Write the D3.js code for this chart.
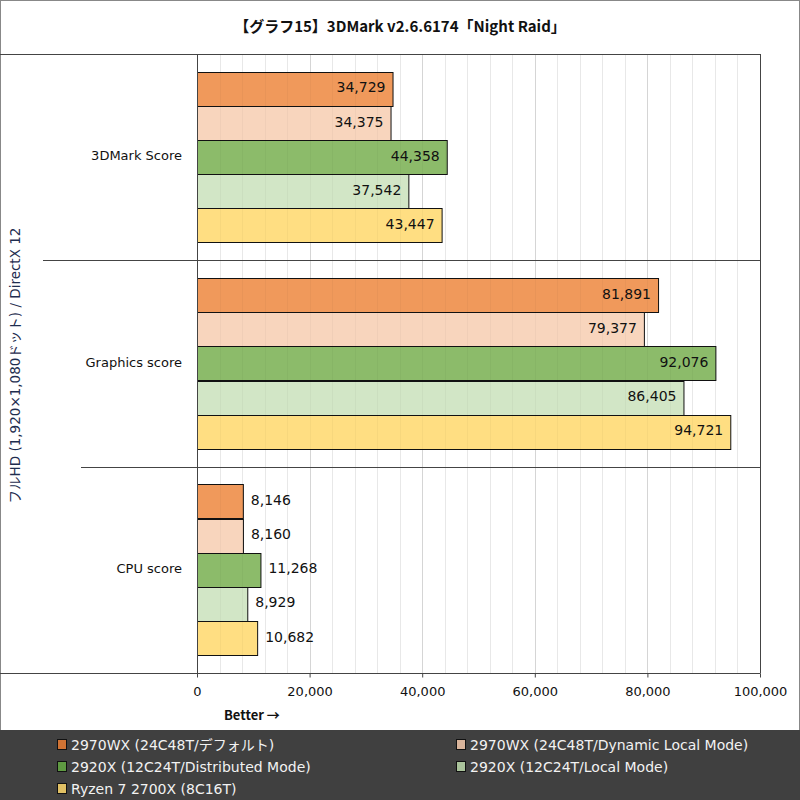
<!DOCTYPE html>
<html>
<head>
<meta charset="utf-8">
<script src="https://cdn.jsdelivr.net/npm/d3@7"></script>
<style>
  body { margin: 0; background: #fff; }
  svg text { font-family: "DejaVu Sans", "Noto Sans CJK JP", sans-serif; }
</style>
</head>
<body>
<div id="chart"></div>
<script>
// chart data
var title = "【グラフ15】3DMark v2.6.6174「Night Raid」";
var groupLabel = "フルHD (1,920×1,080ドット) / DirectX 12";
var categories = ["3DMark Score", "Graphics score", "CPU score"];
var seriesNames = [
    "2970WX (24C48T/デフォルト)",
    "2970WX (24C48T/Dynamic Local Mode)",
    "2920X (12C24T/Distributed Mode)",
    "2920X (12C24T/Local Mode)",
    "Ryzen 7 2700X (8C16T)"
];
var wx2970Default = [34729, 81891, 8146];
var wx2970Local = [34375, 79377, 8160];
var x2920Dist = [44358, 92076, 11268];
var x2920Local = [37542, 86405, 8929];
var r2700x = [43447, 94721, 10682];
var seriesValues = [wx2970Default, wx2970Local, x2920Dist, x2920Local, r2700x];
var xTicks = [0, 20000, 40000, 60000, 80000, 100000];

var barColors = ["#f0995b", "#f8d5bd", "#8cbb6a", "#d2e6c6", "#ffde82"];
var swatchColors = ["#d07334", "#d9b49b", "#5f9a42", "#aac39b", "#e0c064"];

var width = 800, height = 800;
var plotLeft = 197, plotRight = 760, plotTop = 54, plotBottom = 673;

var svg = d3.select("#chart").append("svg")
    .attr("width", width)
    .attr("height", height);

// outer frame
svg.append("rect")
    .attr("x", 0.5).attr("y", 0.5)
    .attr("width", width - 1).attr("height", height - 1)
    .attr("fill", "#fff").attr("stroke", "#888");

// title
svg.append("text")
    .attr("x", 400).attr("y", 32)
    .attr("text-anchor", "middle")
    .attr("font-size", 15)
    .attr("font-weight", "bold")
    .style("font-family", "'Noto Sans CJK JP', sans-serif")
    .attr("fill", "#111")
    .text(title);

var xScale = d3.scaleLinear()
    .domain([0, 100000])
    .range([plotLeft, plotRight]);

var yGroup = d3.scaleBand()
    .domain(categories)
    .range([plotTop, plotBottom]);

var yInner = d3.scaleBand()
    .domain(d3.range(seriesNames.length))
    .range([0, yGroup.bandwidth()])
    .paddingOuter(0.52);

// gridlines: minor every 4000, major every 20000
var minor = d3.range(0, 100001, 4000).filter(function(v){ return v % 20000 !== 0; });
svg.append("g").selectAll("line").data(minor).enter()
    .append("line")
    .attr("x1", function(d){ return Math.round(xScale(d)) + 0.5; })
    .attr("x2", function(d){ return Math.round(xScale(d)) + 0.5; })
    .attr("y1", plotTop).attr("y2", plotBottom)
    .attr("stroke", "#f0f0f0");
svg.append("g").selectAll("line").data(xTicks.slice(1, -1)).enter()
    .append("line")
    .attr("x1", function(d){ return Math.round(xScale(d)) + 0.5; })
    .attr("x2", function(d){ return Math.round(xScale(d)) + 0.5; })
    .attr("y1", plotTop).attr("y2", plotBottom)
    .attr("stroke", "#dcdcdc");

// bars
var rows = [];
categories.forEach(function(c, ci){
    seriesValues.forEach(function(vals, si){
        rows.push({cat: c, s: si, v: vals[ci]});
    });
});

var bars = svg.append("g");
bars.selectAll("rect").data(rows).enter()
    .append("rect")
    .attr("x", xScale(0) + 0.5)
    .attr("y", function(d){ return Math.round(yGroup(d.cat) + yInner(d.s)) + 0.5; })
    .attr("width", function(d){ return xScale(d.v) - xScale(0); })
    .attr("height", Math.round(yInner.bandwidth()))
    .attr("fill", function(d){ return barColors[d.s]; })
    .attr("stroke", "#111");

// faint grid showing through bars
svg.append("g").selectAll("line").data(minor.concat(xTicks.slice(1, -1))).enter()
    .append("line")
    .attr("x1", function(d){ return Math.round(xScale(d)) + 0.5; })
    .attr("x2", function(d){ return Math.round(xScale(d)) + 0.5; })
    .attr("y1", plotTop).attr("y2", plotBottom)
    .attr("stroke", "rgba(0,0,0,0.03)");

// value labels: inside bar when it fits, outside otherwise
bars.selectAll("text").data(rows).enter()
    .append("text")
    .attr("x", function(d){
        var w = xScale(d.v) - xScale(0);
        return w > 80 ? xScale(d.v) - 7 : xScale(d.v) + 8;
    })
    .attr("y", function(d){ return yGroup(d.cat) + yInner(d.s) + yInner.bandwidth() / 2 + 3.5; })
    .attr("text-anchor", function(d){ return (xScale(d.v) - xScale(0)) > 80 ? "end" : "start"; })
    .attr("font-size", 14)
    .attr("fill", "#111")
    .text(function(d){ return d3.format(",")(d.v); });

// plot frame: top, right, y axis line
svg.append("line").attr("x1", 0).attr("x2", plotRight + 0.5)
    .attr("y1", plotTop + 0.5).attr("y2", plotTop + 0.5).attr("stroke", "#444");
svg.append("line").attr("x1", plotRight + 0.5).attr("x2", plotRight + 0.5)
    .attr("y1", plotTop).attr("y2", plotBottom).attr("stroke", "#444");
svg.append("line").attr("x1", plotLeft + 0.5).attr("x2", plotLeft + 0.5)
    .attr("y1", plotTop).attr("y2", plotBottom).attr("stroke", "#444");

// category separators
svg.append("line").attr("x1", 43).attr("x2", plotRight)
    .attr("y1", Math.round(yGroup(categories[1])) + 0.5).attr("y2", Math.round(yGroup(categories[1])) + 0.5)
    .attr("stroke", "#444");
svg.append("line").attr("x1", 81).attr("x2", plotRight)
    .attr("y1", Math.round(yGroup(categories[2])) + 0.5).attr("y2", Math.round(yGroup(categories[2])) + 0.5)
    .attr("stroke", "#444");

// category labels
svg.append("g").selectAll("text").data(categories).enter()
    .append("text")
    .attr("x", 182)
    .attr("y", function(d){ return yGroup(d) + yGroup.bandwidth() / 2 + 3; })
    .attr("text-anchor", "end")
    .attr("font-size", 13)
    .attr("fill", "#111")
    .text(function(d){ return d; });

// group label (rotated)
svg.append("text")
    .attr("transform", "translate(20," + ((plotTop + plotBottom) / 2 + 2) + ") rotate(-90)")
    .attr("text-anchor", "middle")
    .attr("font-size", 13.5)
    .attr("fill", "#1f2d4f")
    .text(groupLabel);

// x axis
var xAxis = d3.axisBottom(xScale)
    .tickValues(xTicks)
    .tickSize(4)
    .tickFormat(d3.format(","));

var axisG = svg.append("g")
    .attr("transform", "translate(0," + (plotBottom + 0.5) + ")")
    .call(xAxis);
axisG.select(".domain").remove();
axisG.selectAll(".tick line").attr("stroke", "#444");
axisG.selectAll(".tick text")
    .attr("font-size", 13)
    .attr("fill", "#111")
    .attr("dy", "1.2em")
    .style("font-family", "'DejaVu Sans', sans-serif");
svg.append("line").attr("x1", 0).attr("x2", plotRight + 0.5)
    .attr("y1", plotBottom + 0.5).attr("y2", plotBottom + 0.5).attr("stroke", "#444");

// "Better" note
svg.append("text")
    .attr("x", 224).attr("y", 720)
    .attr("font-size", 13)
    .attr("font-weight", "bold")
    .style("font-family", "'Noto Sans CJK JP', sans-serif")
    .attr("fill", "#111")
    .text("Better →");

// legend
svg.append("rect")
    .attr("x", 0).attr("y", 730)
    .attr("width", width).attr("height", 70)
    .attr("fill", "#404040");

var legend = svg.append("g").selectAll("g").data(seriesNames).enter()
    .append("g")
    .attr("transform", function(d, i){
        var col = i % 2, row = Math.floor(i / 2);
        return "translate(" + (col === 0 ? 57 : 456) + "," + (739 + row * 22) + ")";
    });
legend.append("rect")
    .attr("x", 0.5).attr("y", 0.5)
    .attr("width", 9).attr("height", 10)
    .attr("fill", function(d, i){ return swatchColors[i]; })
    .attr("stroke", "#111");
legend.append("text")
    .attr("x", 14).attr("y", 10.5)
    .attr("font-size", 14)
    .attr("fill", "#f2f2f2")
    .text(function(d){ return d; });
</script>
</body>
</html>
